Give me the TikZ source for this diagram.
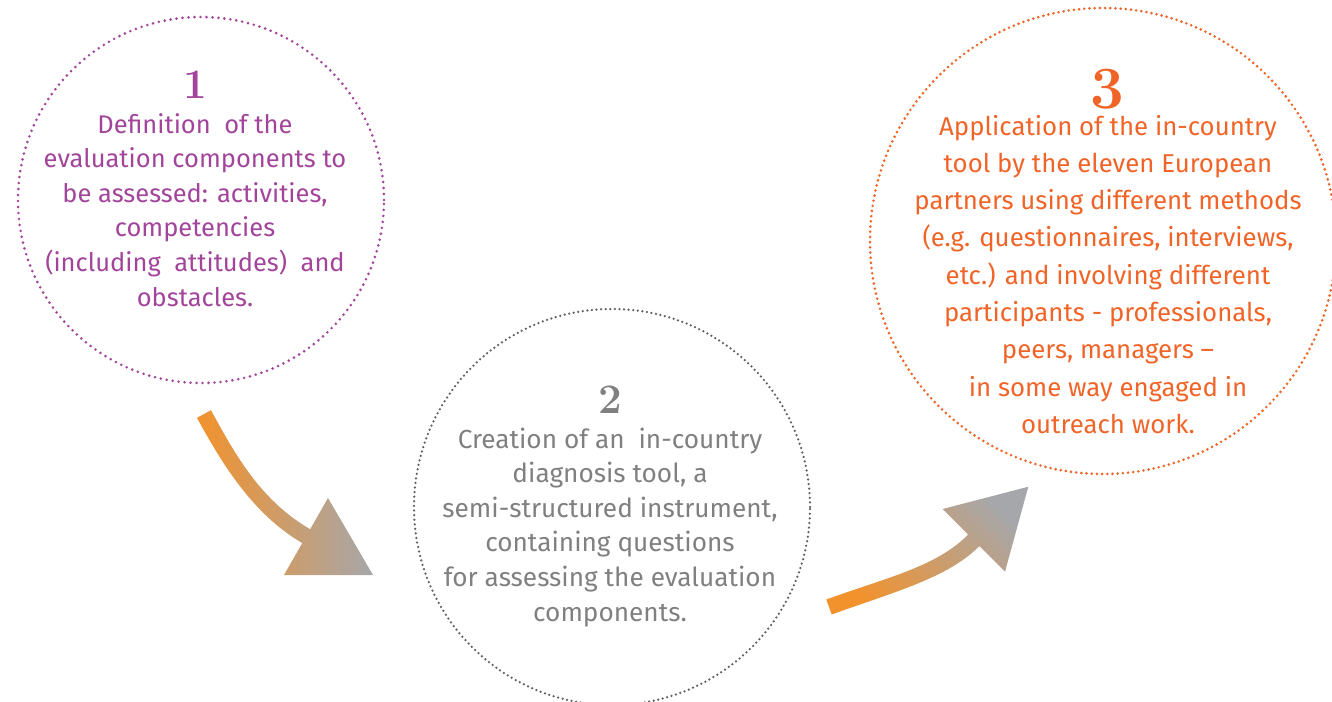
\documentclass[tikz,border=0pt]{standalone}
\usepackage{fontspec}
\newfontfamily\bodyfont{Fira Sans}
\definecolor{stepPurple}{RGB}{163,68,155}
\definecolor{stepGray}{RGB}{128,128,128}
\definecolor{dotGray}{RGB}{95,95,95}
\definecolor{stepOrange}{RGB}{240,100,40}
\definecolor{arrowOrange}{RGB}{242,146,44}
\definecolor{arrowGray}{RGB}{166,167,171}
\begin{document}
\begin{tikzpicture}[x=1pt,y=-1pt,
  ring/.style={circle, inner sep=0pt, line width=2.9pt, line cap=round,
               dash pattern=on 0pt off #1},
  numlabel/.style={inner sep=0pt, anchor=base, font=\bfseries\fontsize{42}{42}\selectfont},
  bodytext/.style={inner sep=0pt, anchor=base, align=center,
                   font=\bodyfont\fontsize{25.5}{34.6}\selectfont}]
\useasboundingbox (0,0) rectangle (1332,701);

% dotted circles
\node[ring=6pt, draw=stepPurple, minimum size=366pt] (c1) at (201,200) {};
\node[ring=4.6pt, draw=dotGray, line width=2.5pt, minimum size=396pt] (c2) at (612,507) {};
\node[ring=5.2pt, draw=stepOrange, minimum size=466pt] (c3) at (1103,241) {};

% step numbers
\node[numlabel, text=stepPurple] (n1) at (195.5,98) {1};
\node[numlabel, text=stepGray] (n2) at (610.5,413) {2};
\node[numlabel, text=stepOrange, font=\bfseries\fontsize{60}{60}\selectfont] (n3) at (1107.5,108) {3};

% step descriptions (anchored at the baseline of the last line)
\node[bodytext, text=stepPurple] (t1) at (195,306) {Definition\ \ of the\\evaluation components to\\be assessed: activities,\\competencies\\(including\ \ attitudes)\ \ and\\obstacles.};
\node[bodytext, text=stepGray, font=\bodyfont\fontsize{26.2}{34.6}\selectfont] (t2) at (610,621) {Creation of an\ \ in-country\\diagnosis tool, a\\semi-structured instrument,\\containing questions\\for assessing the evaluation\\components.};
\node[bodytext, text=stepOrange, font=\bodyfont\fontsize{25.8}{37.3}\selectfont] (t3) at (1108,433.4) {Application of the in-country\\tool by the eleven European\\partners using different methods\\(e.g. questionnaires, interviews,\\etc.) and involving different\\participants - professionals,\\peers, managers –\\in some way engaged in\\outreach work.};

% curved arrow from step 1 down to step 2
\shade[left color=arrowOrange, right color=arrowGray]
  (211.0,410.2) .. controls (237.0,458.2) and (262.0,501.1) .. (310.0,529.1)
  -- (318.7,534.1) -- (310.7,547.9) -- (302.0,542.9)
  .. controls (254.0,514.9) and (223.0,465.8) .. (197.0,417.8) -- cycle
  (328,498) -- (373,575) -- (284,575) -- cycle;

% curved arrow from step 2 up to step 3
\shade[top color=arrowGray, bottom color=arrowOrange, shading angle=-45]
  (826.3,599.5) .. controls (887.4,577.3) and (936.3,566.8) .. (968.1,534.6)
  -- (975.2,527.5) -- (986.6,538.9) -- (979.5,546.0)
  .. controls (947.7,578.2) and (892.8,592.3) .. (831.7,614.5) -- cycle
  (942.7,509) -- (1028.3,486.7) -- (1005,571.7) -- cycle;
\end{tikzpicture}
\end{document}
